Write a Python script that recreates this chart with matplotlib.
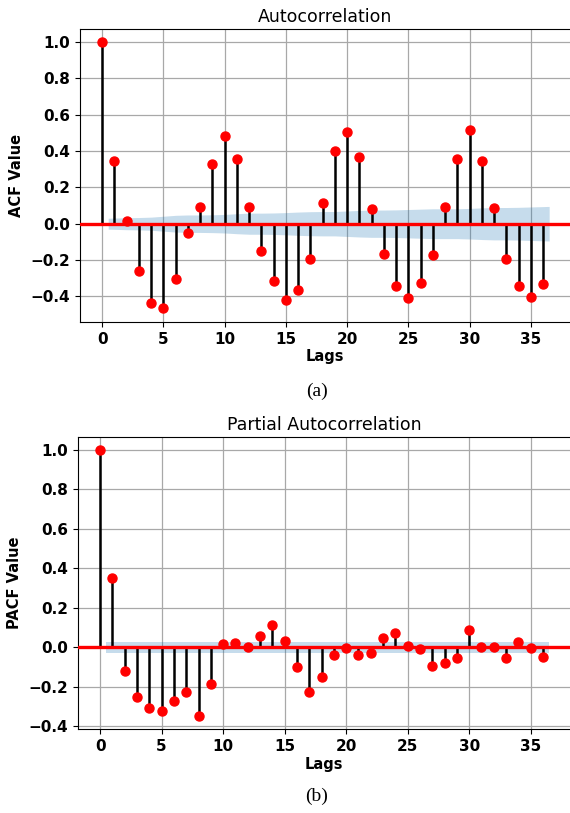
import numpy as np
import matplotlib.pyplot as plt

# ACF / PACF values, lags 0..36
lags = np.arange(37)
acf_vals = [1.0, 0.347, 0.013, -0.26, -0.435, -0.462, -0.303, -0.051, 0.091, 0.33,
            0.48, 0.355, 0.09, -0.152, -0.316, -0.422, -0.367, -0.194, 0.113, 0.397,
            0.503, 0.364, 0.082, -0.166, -0.34, -0.41, -0.324, -0.174, 0.093, 0.355,
            0.517, 0.347, 0.088, -0.194, -0.34, -0.402, -0.329]
pacf_vals = [1.0, 0.35, -0.12, -0.255, -0.306, -0.323, -0.272, -0.225, -0.348, -0.188,
             0.015, 0.019, 0.002, 0.059, 0.111, 0.03, -0.101, -0.226, -0.149, -0.041,
             -0.005, -0.041, -0.03, 0.049, 0.073, 0.008, -0.01, -0.096, -0.081, -0.056,
             0.086, 0.002, 0.003, -0.054, 0.025, -0.005, -0.052]

# half-width of the confidence band for lags 1..36
acf_band = [0.030, 0.033, 0.034, 0.036, 0.041, 0.046, 0.048, 0.048, 0.049, 0.051,
            0.055, 0.058, 0.058, 0.059, 0.061, 0.064, 0.066, 0.067, 0.067, 0.070,
            0.073, 0.075, 0.075, 0.076, 0.078, 0.080, 0.082, 0.082, 0.082, 0.084,
            0.087, 0.089, 0.089, 0.090, 0.092, 0.095]
pacf_band = [0.028] * 36

fig = plt.figure(figsize=(5.7, 8.13), dpi=100)


def corr_plot(ax, vals, band, title, ylabel, ylim, yticks):
    x = np.arange(1, 37).astype(float)
    x[0] -= 0.5
    x[-1] += 0.5
    ax.fill_between(x, -np.array(band), band, color='#1f77b4', alpha=0.25,
                    linewidth=0, zorder=1)
    ax.vlines(lags, 0, vals, color='black', linewidth=1.8, zorder=2)
    ax.axhline(0, color='red', linewidth=2.4, zorder=3)
    ax.plot(lags, vals, 'o', color='red', markersize=6.5, zorder=4)
    ax.set_xlim(-1.8, 38.2)
    ax.set_ylim(*ylim)
    ax.set_xticks(range(0, 36, 5))
    ax.set_yticks(yticks)
    ax.set_yticklabels(['%.1f' % t if t >= 0 else '\u2212%.1f' % -t for t in yticks])
    ax.grid(True, color='#a8a8a8', linewidth=0.9)
    ax.set_axisbelow(True)
    ax.spines['right'].set_visible(False)
    for lab in ax.get_xticklabels() + ax.get_yticklabels():
        lab.set_fontweight('bold')
        lab.set_fontsize(11)
    ax.set_title(title, fontsize=12.5, pad=5)
    ax.set_xlabel('Lags', fontweight='bold', fontsize=10.5, labelpad=2)
    ax.set_ylabel(ylabel, fontweight='bold', fontsize=10.5, labelpad=5)


ax1 = fig.add_axes([0.1404, 0.604, 0.8596, 0.3603])
corr_plot(ax1, acf_vals, acf_band, 'Autocorrelation', 'ACF Value',
          (-0.54, 1.07), [-0.4, -0.2, 0.0, 0.2, 0.4, 0.6, 0.8, 1.0])

ax2 = fig.add_axes([0.1368, 0.1033, 0.8632, 0.3592])
corr_plot(ax2, pacf_vals, pacf_band, 'Partial Autocorrelation', 'PACF Value',
          (-0.415, 1.066), [-0.4, -0.2, 0.0, 0.2, 0.4, 0.6, 0.8, 1.0])

fig.text(0.556, 0.519, '(a)', ha='center', va='center',
         family='Liberation Serif', fontsize=14)
fig.text(0.556, 0.02, '(b)', ha='center', va='center',
         family='Liberation Serif', fontsize=14)

fig.savefig('out.png', dpi=100)
